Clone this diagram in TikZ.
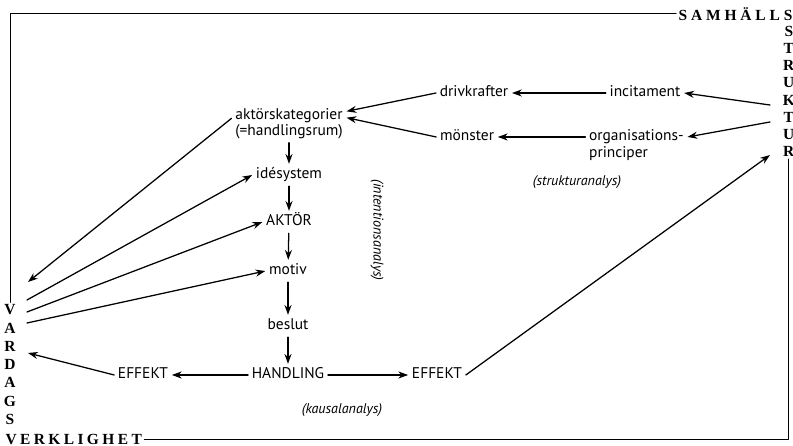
\documentclass[tikz,border=0pt]{standalone}
\usepackage{fontspec}
\setmainfont{PT Sans}
\newfontfamily\ramfont[LetterSpace=25]{Liberation Serif}
\newfontfamily\verkfont[LetterSpace=22]{Liberation Serif}
\newfontfamily\bokstav{Liberation Serif}
\usetikzlibrary{arrows.meta}
\begin{document}
\begin{tikzpicture}[>={Stealth[length=7pt,width=5pt]},line join=round,line cap=round,font=\fontsize{11}{13}\selectfont,
	lbl/.style={inner sep=2.5pt,text height=8pt,text depth=2.5pt},
	kursiv/.style={font=\fontsize{10}{12}\selectfont\itshape},
	ram/.style={font=\fontsize{11}{12}\selectfont\bokstav\bfseries,inner sep=1.5pt},
	pil/.style={->,line width=0.9pt}]
	\useasboundingbox (0,0) rectangle (19.825,11.15);
	% ramens ord
	\node[ram,anchor=east,font=\fontsize{11}{12}\selectfont\ramfont\bfseries] (samh) at (19.87,10.8) {SAMHÄLLS};
	\node[ram,anchor=west,font=\fontsize{11}{12}\selectfont\verkfont\bfseries] (verk) at (0.08,0.17) {VERKLIGHET};
	\foreach \l [count=\i] in {S,T,R,U,K,T,U,R}
		\node[ram] (t\i) at (19.72,10.8-\i*0.43) {\l};
	\foreach \l [count=\i] in {V,A,R,D,A,G,S}
		\node[ram] (v\i) at (0.25,3.4-\i*0.455+0.455) {\l};
	\draw[line width=0.7pt] (v1) |- (samh.west);
	\draw[line width=0.7pt] (t8) |- (verk.east);
	% fria ändar vid ramen
	\path
	(0.7,4.1) coordinate (vIn1)
	(0.675,3.65) coordinate (vUt1)
	(0.675,3.35) coordinate (vUt2)
	(0.675,3.075) coordinate (vUt3)
	(0.7,2.325) coordinate (vIn2)
	(19.25,8.525) coordinate (sUt1)
	(19.25,8.1) coordinate (sUt2)
	(19.25,7.275) coordinate (sIn);
	% mittkolumnen
	\node[align=center,font=\fontsize{11}{9.5}\selectfont,inner sep=2.5pt] (kat) at (7.225,8.05) {aktörskategorier\\(=handlingsrum)};
	\node[lbl] (ide) at (7.225,6.775) {idésystem};
	\node[lbl] (aktor) at (7.225,5.6) {AKTÖR};
	\node[lbl] (motiv) at (7.2,4.375) {motiv};
	\node[lbl] (beslut) at (7.2,3.0) {beslut};
	\node[lbl] (handl) at (7.2,1.775) {HANDLING};
	\node[lbl] (effL) at (3.575,1.775) {EFFEKT};
	\node[lbl] (effR) at (10.925,1.775) {EFFEKT};
	% strukturdelen
	\node[lbl] (driv) at (11.85,8.825) {drivkrafter};
	\node[lbl] (incit) at (16.125,8.825) {incitament};
	\node[lbl] (monster) at (11.675,7.725) {mönster};
	\node[lbl] (org) at (15.91,7.725) {organisations-};
	\node[lbl,anchor=north west] (princ) at ([yshift=4pt]org.south west) {principer};
	% analysnamn
	\node[kursiv] (intention) at (9.425,5.4) [rotate=-90] {(intentionsanalys)};
	\node[kursiv] (struktur) at (14.425,6.6) {(strukturanalys)};
	\node[kursiv] (kausal) at (8.55,0.9) {(kausalanalys)};
	% pilar
	\draw[pil] (kat) -- (ide);
	\draw[pil] (ide) -- (aktor);
	\draw[pil] (aktor) -- (motiv);
	\draw[pil] (motiv) -- (beslut);
	\draw[pil] (beslut) -- (handl);
	\draw[pil] (handl) -- (effL);
	\draw[pil] (handl) -- (effR);
	\draw[pil] ([yshift=4pt]kat.west) -- (vIn1);
	\draw[pil] (vUt1) -- (ide.west);
	\draw[pil] (vUt2) -- (aktor.west);
	\draw[pil] (vUt3) -- (motiv.west);
	\draw[pil] (effL.west) -- (vIn2);
	\draw[pil] (effR.east) -- (sIn);
	\draw[pil] (sUt1) -- (incit.east);
	\draw[pil] (sUt2) -- (org.east);
	\draw[pil] (incit) -- (driv);
	\draw[pil] (org) -- (monster);
	\draw[pil] (driv.west) -- ([yshift=9pt]kat.east);
	\draw[pil] (monster.west) -- ([yshift=4.5pt]kat.east);
\end{tikzpicture}
\end{document}
